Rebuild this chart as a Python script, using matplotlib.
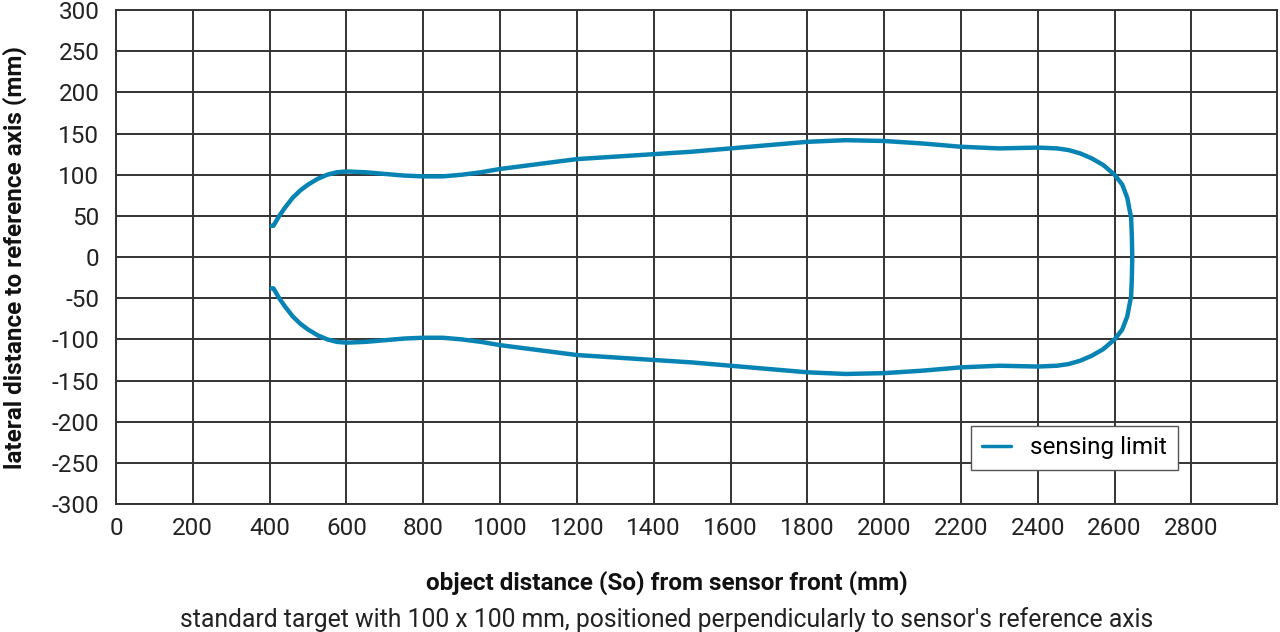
import matplotlib
matplotlib.use('Agg')
import matplotlib.pyplot as plt

plt.rcParams['font.family'] = ['Roboto', 'DejaVu Sans']
plt.rcParams['axes.unicode_minus'] = False

# upper branch of the sensing limit curve (object distance, lateral distance)
dist_mm = [405, 410, 415, 425, 440, 460, 480, 500, 525, 550, 575, 600, 650,
           700, 750, 800, 850, 900, 950, 1000, 1100, 1200, 1300, 1400, 1500,
           1600, 1700, 1800, 1900, 2000, 2100, 2200, 2300, 2400, 2450, 2480,
           2510, 2540, 2570, 2600, 2620, 2633, 2640, 2643, 2645, 2646]
lateral_mm = [38, 38, 42, 50, 60, 72, 81, 88, 95, 100, 103, 104, 103,
              101, 99, 98, 98, 100, 103, 107, 113, 119, 122, 125, 128,
              132, 136, 140, 142, 141, 138, 134, 132, 133, 132, 130,
              126, 120, 112, 100, 88, 72, 55, 48, 25, 0]

x_ticks = list(range(0, 2801, 200))
y_ticks = list(range(-300, 301, 50))

# closed contour: upper branch out, lower branch back
xs = dist_mm + dist_mm[::-1][1:]
ys = lateral_mm + [-v for v in lateral_mm[::-1][1:]]

fig = plt.figure(figsize=(12.8, 6.32), dpi=100)
ax = fig.add_axes([0.0906, 0.2025, 0.9074, 0.7815])

ax.plot(xs, ys, color='#0884b4', lw=3.2, solid_capstyle='round',
        solid_joinstyle='round', label='sensing limit', zorder=3)

ax.set_xlim(0, 3024)
ax.set_ylim(-300, 300)
ax.set_xticks(x_ticks)
ax.set_yticks(y_ticks)
ax.grid(True, color='#333333', lw=1.4)
ax.set_axisbelow(True)
for s in ax.spines.values():
    s.set_color('#333333')
    s.set_linewidth(1.4)
ax.tick_params(length=0, labelsize=17.5, colors='#222222')
ax.tick_params(axis='y', pad=12)
ax.tick_params(axis='x', pad=9)

ax.set_ylabel('lateral distance to reference axis (mm)', fontsize=17.5,
              fontweight='bold', color='#111111')
ax.yaxis.set_label_coords(-0.077, 0.5)
fig.text(0.521, 0.078, 'object distance (So) from sensor front (mm)', ha='center',
         va='center', fontsize=17.5, fontweight='bold', color='#111111')
fig.text(0.521, 0.02, "standard target with 100 x 100 mm, positioned perpendicularly to sensor's reference axis",
         ha='center', va='center', fontsize=17.8, color='#222222')

leg = ax.legend(loc='lower left', bbox_to_anchor=(0.736, 0.068), fontsize=17.5,
                fancybox=False, framealpha=1, edgecolor='#555555',
                handlelength=1.2, handletextpad=0.8, borderpad=0.45,
                borderaxespad=0)
leg.get_frame().set_linewidth(1.0)
for line in leg.get_lines():
    line.set_linewidth(2.5)

fig.savefig('out.png', dpi=100)
